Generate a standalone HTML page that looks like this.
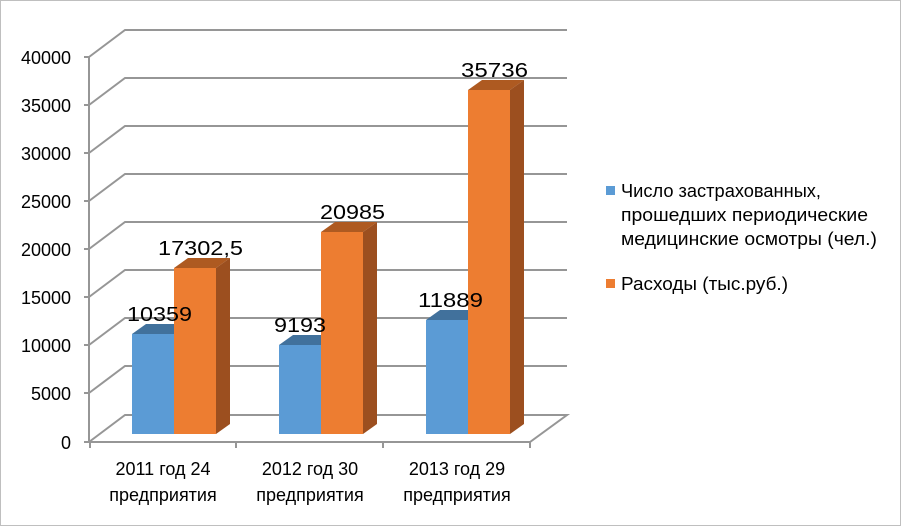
<!DOCTYPE html>
<html><head><meta charset="utf-8"><style>
body{margin:0;background:#fff}
svg{display:block;font-family:"Liberation Sans","DejaVu Sans",sans-serif}
</style></head><body>
<svg width="901" height="526" viewBox="0 0 901 526">
<rect x="0.5" y="0.5" width="900" height="525" fill="#fff" stroke="#bfbfbf"/>
<g stroke="#969696" stroke-width="2" fill="none">
<path d="M89 57 L125 30 H567 M89 105 L125 78 H567 M89 153 L125 126 H567 M89 201 L125 174 H567 M89 249 L125 222 H567 M89 297 L125 270 H567 M89 345 L125 318 H567 M89 393 L125 366 H567"/>
<path d="M89 442 L125 415 H567 L530 442 H89"/>
<path d="M89 57 V442"/>
<path d="M84 57 H89 M84 105 H89 M84 153 H89 M84 201 H89 M84 249 H89 M84 297 H89 M84 345 H89 M84 393 H89 M84 442 H89"/>
<path d="M90 442 V448 M236 442 V448 M383 442 V448 M530 442 V448"/>
</g>
<g>
<polygon points="132,334 146,324 188,324 174,334" fill="#41719c"/>
<rect x="132" y="334" width="42" height="100" fill="#5b9bd5"/>
<polygon points="174,268 188,258 230,258 216,268" fill="#ae5a21"/>
<polygon points="216,268 230,258 230,424 216,434" fill="#9c4f1f"/>
<rect x="174" y="268" width="42" height="166" fill="#ed7d31"/>

<polygon points="279,345 293,335 335,335 321,345" fill="#41719c"/>
<rect x="279" y="345" width="42" height="89" fill="#5b9bd5"/>
<polygon points="321,232 335,222 377,222 363,232" fill="#ae5a21"/>
<polygon points="363,232 377,222 377,424 363,434" fill="#9c4f1f"/>
<rect x="321" y="232" width="42" height="202" fill="#ed7d31"/>

<polygon points="426,320 440,310 482,310 468,320" fill="#41719c"/>
<rect x="426" y="320" width="42" height="114" fill="#5b9bd5"/>
<polygon points="468,90 482,80 524,80 510,90" fill="#ae5a21"/>
<polygon points="510,90 524,80 524,424 510,434" fill="#9c4f1f"/>
<rect x="468" y="90" width="42" height="344" fill="#ed7d31"/>
</g>
<g font-size="20" fill="#000">
<text x="127" y="321" textLength="65" lengthAdjust="spacingAndGlyphs">10359</text>
<text x="158" y="255" textLength="85" lengthAdjust="spacingAndGlyphs">17302,5</text>
<text x="274" y="332" textLength="52" lengthAdjust="spacingAndGlyphs">9193</text>
<text x="320" y="219" textLength="65" lengthAdjust="spacingAndGlyphs">20985</text>
<text x="418" y="307" textLength="65" lengthAdjust="spacingAndGlyphs">11889</text>
<text x="461" y="77" textLength="67" lengthAdjust="spacingAndGlyphs">35736</text>
</g>
<g font-size="18" fill="#000" text-anchor="end">
<text x="71" y="64">40000</text>
<text x="71" y="112">35000</text>
<text x="71" y="160">30000</text>
<text x="71" y="208">25000</text>
<text x="71" y="256">20000</text>
<text x="71" y="304">15000</text>
<text x="71" y="352">10000</text>
<text x="71" y="400">5000</text>
<text x="71" y="449">0</text>
</g>
<g font-size="18" fill="#000" text-anchor="middle">
<text x="163" y="475">2011 год 24</text><text x="163" y="501">предприятия</text>
<text x="310" y="475">2012 год 30</text><text x="310" y="501">предприятия</text>
<text x="457" y="475">2013 год 29</text><text x="457" y="501">предприятия</text>
</g>
<rect x="606" y="186" width="9" height="9" fill="#5b9bd5"/>
<rect x="606" y="279" width="9" height="9" fill="#ed7d31"/>
<g font-size="18" fill="#000">
<text x="621" y="197" textLength="200" lengthAdjust="spacingAndGlyphs">Число застрахованных,</text>
<text x="621" y="221" textLength="247" lengthAdjust="spacingAndGlyphs">прошедших периодические</text>
<text x="621" y="245" textLength="256" lengthAdjust="spacingAndGlyphs">медицинские осмотры (чел.)</text>
<text x="621" y="290" textLength="167" lengthAdjust="spacingAndGlyphs">Расходы (тыс.руб.)</text>
</g>
</svg>
</body></html>
